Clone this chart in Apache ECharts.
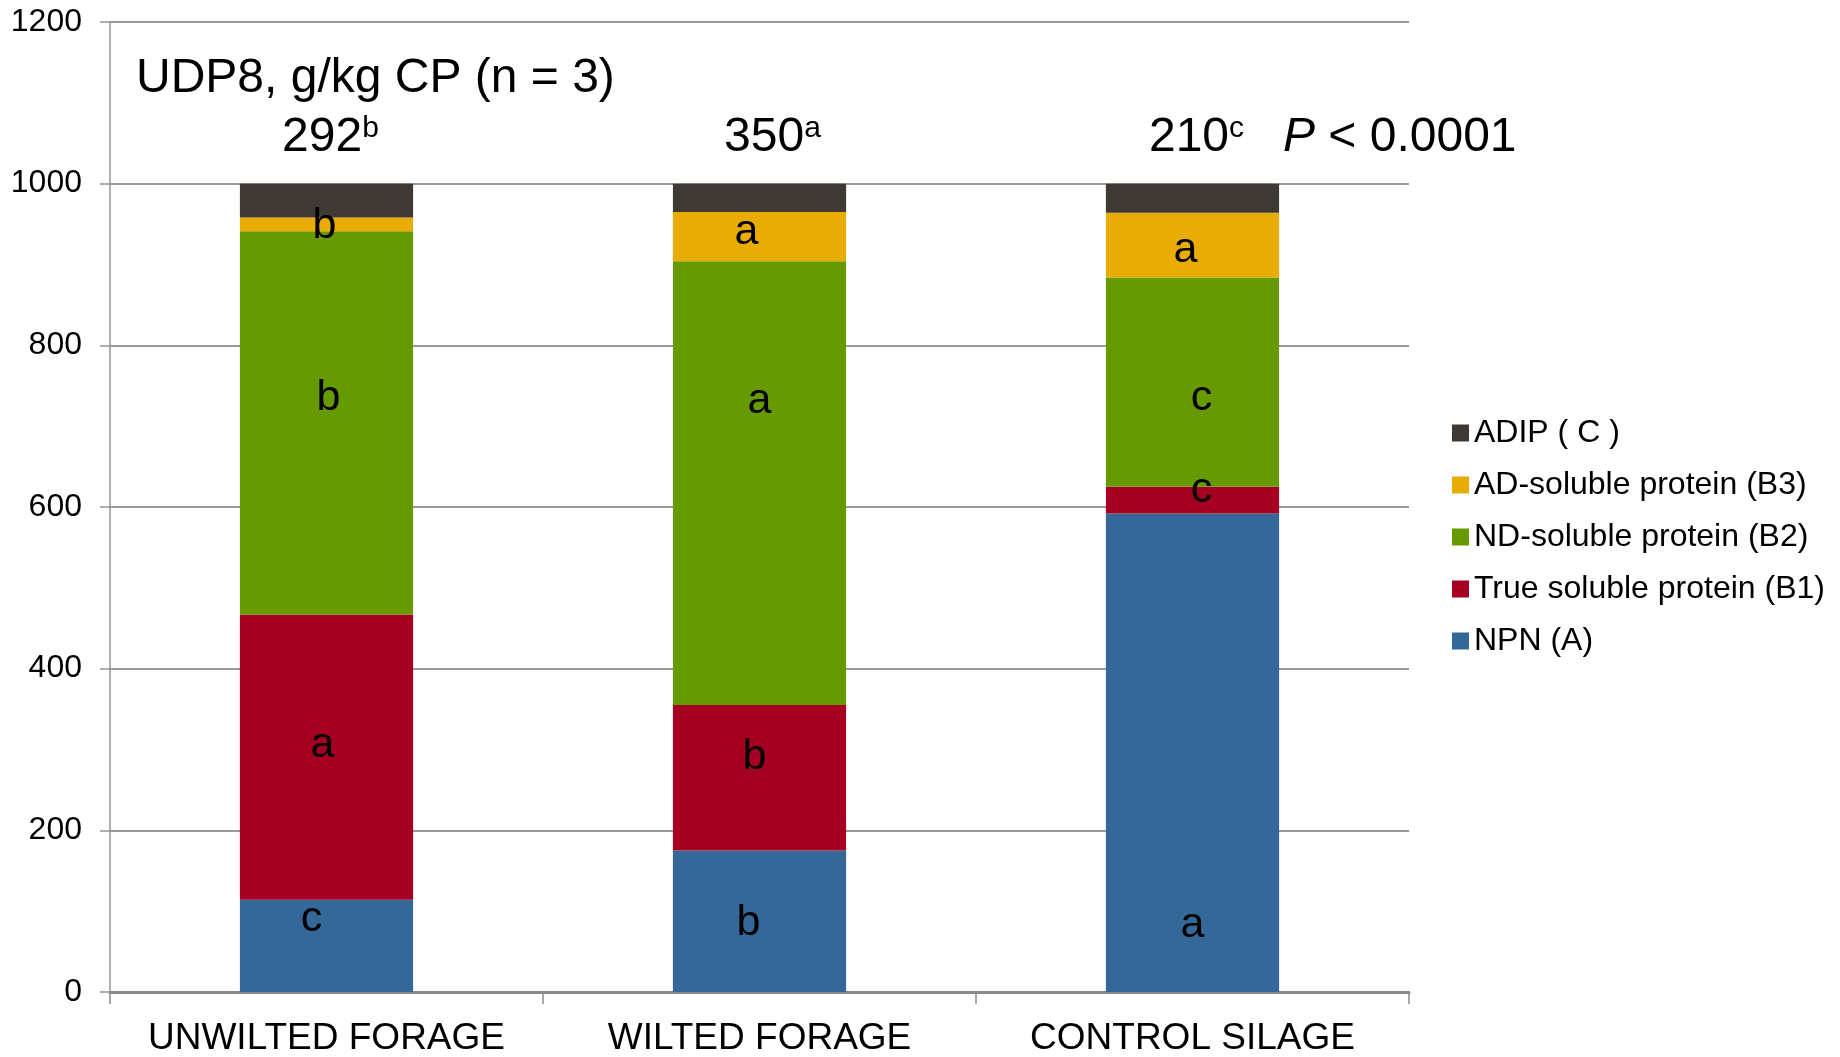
<!DOCTYPE html>
<html>
<head>
<meta charset="utf-8">
<script src="https://cdn.jsdelivr.net/npm/echarts@6/dist/echarts.min.js"></script>
<style>
  html, body { margin: 0; padding: 0; background: #ffffff; }
  #chart { width: 1840px; height: 1057px; }
</style>
</head>
<body>
<div id="chart"></div>
<script>
// Protein fractions, g/kg CP
const categories = ['UNWILTED FORAGE', 'WILTED FORAGE', 'CONTROL SILAGE'];
const npn         = [114, 175, 592];   // NPN (A)
const trueSoluble = [353, 180, 33];    // True soluble protein (B1)
const ndSoluble   = [474, 549, 259];   // ND-soluble protein (B2)
const adSoluble   = [17, 61, 80];      // AD-soluble protein (B3)
const adip        = [42, 35, 36];      // ADIP (C)

// Significance letters for each fraction
const npnLetters         = ['c', 'b', 'a'];
const trueSolubleLetters = ['a', 'b', 'c'];
const ndSolubleLetters   = ['b', 'a', 'c'];
const adSolubleLetters   = ['b', 'a', 'a'];

// UDP8 per treatment
const udp8        = [292, 350, 210];
const udp8Letters = ['b', 'a', 'c'];
const pValueText  = '< 0.0001';

const seriesNames = ['NPN (A)', 'True soluble protein (B1)', 'ND-soluble protein (B2)',
                     'AD-soluble protein (B3)', 'ADIP ( C )'];
const colors = ['#346899', '#a50022', '#669a00', '#e9ac04', '#3e3932'];

// Hand placement of the letter labels inside the segments (pixel nudges)
const letterNudge = [
  [[-15, -27], [-11, 2], [0, 172]],
  [[-4, -12], [-5, -21], [9, -10]],
  [[2, -25], [0, -82], [9, 16]],
  [[-2, 2], [-13, -4], [-7, 5]]
];
const udpNudge = [4, 13, 4];

const FONT = '"Liberation Sans", Arial, Helvetica, sans-serif';

function letterSeries(idx, values, letters) {
  return {
    name: seriesNames[idx],
    type: 'bar',
    stack: 'cp',
    barWidth: '40%',
    itemStyle: { color: colors[idx] },
    data: values.map((v, i) => ({
      value: v,
      label: {
        show: true,
        position: 'inside',
        offset: letterNudge[idx][i],
        formatter: letters[i],
        color: '#000',
        fontSize: 43,
        fontFamily: FONT
      }
    }))
  };
}

const chart = echarts.init(document.getElementById('chart'), null, { renderer: 'canvas' });

const option = {
  animation: false,
  backgroundColor: '#ffffff',
  textStyle: { fontFamily: FONT },
  grid: { left: 110, right: 431, top: 22, bottom: 58, containLabel: false },
  legend: {
    orient: 'vertical',
    left: 1447,
    top: 411,
    itemWidth: 17,
    itemHeight: 17,
    itemGap: 18,
    icon: 'rect',
    data: ['ADIP ( C )', 'AD-soluble protein (B3)', 'ND-soluble protein (B2)',
           'True soluble protein (B1)', 'NPN (A)'],
    textStyle: { fontSize: 32, color: '#000', fontFamily: FONT, lineHeight: 34 }
  },
  xAxis: {
    type: 'category',
    data: categories,
    axisLine: { show: true, lineStyle: { color: '#8a8a8a', width: 3 } },
    axisTick: { show: true, interval: 0, length: 12, lineStyle: { color: '#8a8a8a', width: 1.5 } },
    axisLabel: { interval: 0, color: '#000', fontSize: 37, fontFamily: FONT, margin: 28 }
  },
  yAxis: {
    type: 'value',
    min: 0,
    max: 1200,
    interval: 200,
    axisLine: { show: true, lineStyle: { color: '#969696', width: 1.5 } },
    axisTick: { show: true, length: 10, lineStyle: { color: '#969696', width: 1.5 } },
    axisLabel: {
      color: '#000', fontSize: 32, fontFamily: FONT, margin: 28,
      formatter: v => String(v)
    },
    splitLine: { show: true, lineStyle: { color: '#9a9a9a', width: 2 } }
  },
  series: [
    letterSeries(0, npn, npnLetters),
    letterSeries(1, trueSoluble, trueSolubleLetters),
    letterSeries(2, ndSoluble, ndSolubleLetters),
    letterSeries(3, adSoluble, adSolubleLetters),
    {
      name: seriesNames[4],
      type: 'bar',
      stack: 'cp',
      barWidth: '40%',
      itemStyle: { color: colors[4] },
      data: adip
    }
  ]
};

chart.setOption(option);

// Annotations above the bars: UDP8 values with superscript letters
const top1000 = chart.convertToPixel({ yAxisIndex: 0 }, 1000);
const graphics = [
  {
    type: 'text',
    x: 136,
    y: top1000 - 105,
    style: {
      text: 'UDP8, g/kg CP (n = 3)',
      fill: '#000',
      font: '48px ' + FONT,
      textAlign: 'left',
      textVerticalAlign: 'middle'
    }
  }
];
udp8.forEach((v, i) => {
  const cx = chart.convertToPixel({ xAxisIndex: 0 }, categories[i]);
  graphics.push({
    type: 'text',
    x: cx + udpNudge[i],
    y: top1000 - 46,
    style: {
      text: '{n|' + v + '}{s|' + udp8Letters[i] + '}',
      textAlign: 'center',
      textVerticalAlign: 'middle',
      rich: {
        n: { fontSize: 48, fontFamily: FONT, color: '#000', lineHeight: 48 },
        s: { fontSize: 30, fontFamily: FONT, color: '#000', lineHeight: 48, verticalAlign: 'top' }
      }
    }
  });
});
graphics.push({
  type: 'text',
  x: 1283,
  y: top1000 - 46,
  style: {
    text: '{i|P}{n| ' + pValueText + '}',
    textAlign: 'left',
    textVerticalAlign: 'middle',
    rich: {
      i: { fontSize: 48, fontFamily: FONT, fontStyle: 'italic', color: '#000', lineHeight: 48 },
      n: { fontSize: 48, fontFamily: FONT, color: '#000', lineHeight: 48 }
    }
  }
});
chart.setOption({ graphic: graphics });
</script>
</body>
</html>
